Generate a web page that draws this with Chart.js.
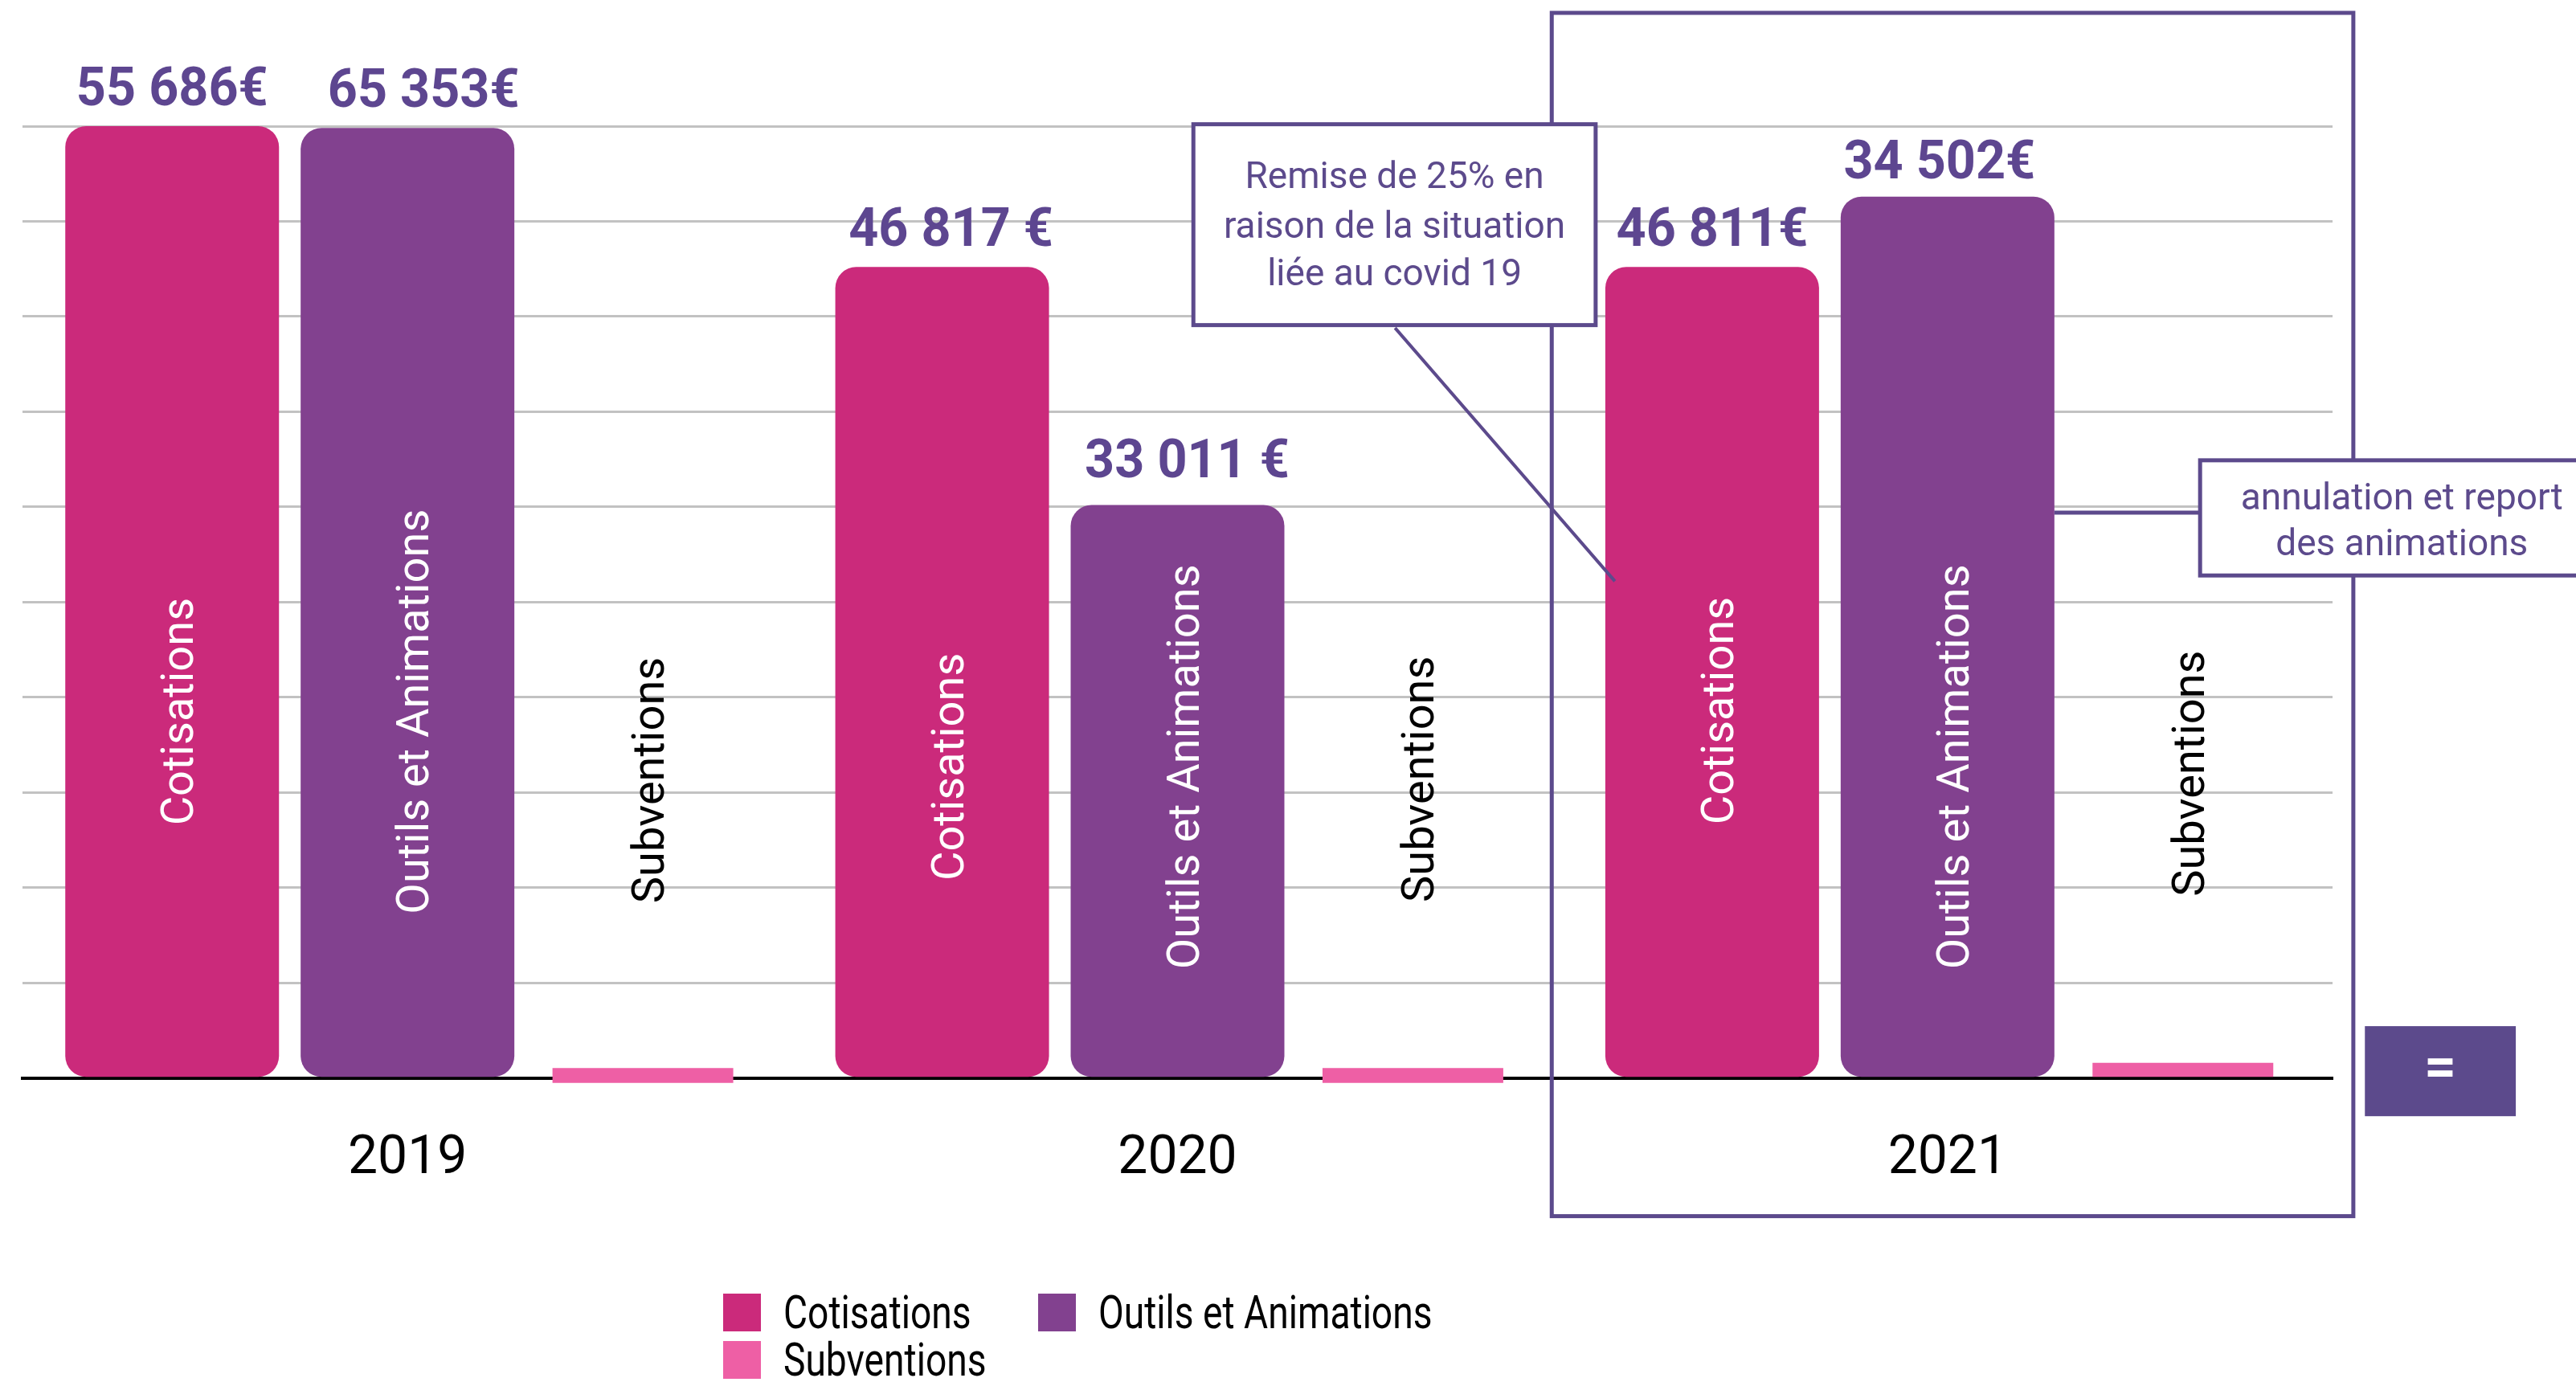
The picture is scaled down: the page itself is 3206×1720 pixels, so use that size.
<!DOCTYPE html>
<html><head><meta charset="utf-8">
<script src="https://cdn.jsdelivr.net/npm/chart.js@4/dist/chart.umd.min.js"></script>
<style>
html,body{margin:0;padding:0;background:#fff;}
#wrap{position:relative;width:3206px;height:1720px;overflow:hidden;background:#fff;}
canvas{position:absolute;left:0;top:0;}
.lg{position:absolute;font-family:Roboto,sans-serif;font-size:57px;color:#000;display:flex;align-items:center;white-space:nowrap;height:47px;}
.lg .b{display:inline-block;width:47px;height:47px;margin-right:28px;flex:none;}
.lg .t{display:inline-block;transform:scaleX(0.81);transform-origin:0 50%;}
</style></head><body>
<div id="wrap"><canvas id="c" width="3206" height="1720"></canvas><div id="legend"></div></div>
<script>
// ---- data ----
const years = ['2019', '2020', '2021'];
const seriesNames = ['Cotisations', 'Outils et Animations', 'Subventions'];
// bar heights (as drawn, on a 0-100 grid)
const cotisations = [100, 85.2, 85.2];
const outils = [99.8, 60.2, 92.6];
const subventions = [[-0.5, 1.05], [-0.5, 1.05], [0, 1.6]];
// amounts printed above bars
const amountCot = ['55 686€', '46 817 €', '46 811€'];
const amountOut = ['65 353€', '33 011 €', '34 502€'];
// note texts
const noteCovid = ['Remise de 25% en', 'raison de la situation', 'liée au covid 19'];
const noteAnim = ['annulation et report', 'des animations'];
const equalSign = '=';

// ---- styles ----
const colors = ['#cb2a7b', '#82418f', '#ee5fa5'];
const purple = '#5c4a8c';
// where the rotated names sit inside/above the bars (value units)
const nameCenters = [[38.5, 32.7, 38.6], [38.5, 32.7, 32.7], [31.3, 31.4, 32.0]];
// small horizontal / vertical nudges of the amount labels (px)
const amountDx = [[0, 11, 0], [20, 12, -10]];
const amountRise = [[50, 50, 50], [50, 58, 46]];

function scaledText(ctx, text, x, y, sx) {
  ctx.save();
  ctx.translate(x, y);
  ctx.scale(sx, 1);
  ctx.fillText(text, 0, 0);
  ctx.restore();
}

const annot = {
  id: 'annot',
  afterDatasetsDraw(chart) {
    const ctx = chart.ctx, xs = chart.scales.x, ys = chart.scales.y;
    const catW = xs.getPixelForValue(1) - xs.getPixelForValue(0);
    const cx = c => xs.getPixelForValue(0) + c * catW;
    const vy = v => ys.getPixelForValue(v);
    ctx.save();

    // amounts above bars
    ctx.fillStyle = '#5d4690';
    ctx.font = 'bold 66px Roboto';
    ctx.textAlign = 'center';
    ctx.textBaseline = 'alphabetic';
    [amountCot, amountOut].forEach((arr, d) => {
      chart.getDatasetMeta(d).data.forEach((bar, i) => {
        scaledText(ctx, arr[i], bar.x + amountDx[d][i], bar.y - amountRise[d][i] + 23.5, 0.98);
      });
    });

    // rotated series names
    ctx.font = '56px Roboto';
    [0, 1, 2].forEach(d => {
      chart.getDatasetMeta(d).data.forEach((bar, i) => {
        ctx.save();
        ctx.translate(bar.x + 6, vy(nameCenters[d][i]));
        ctx.rotate(-Math.PI / 2);
        ctx.fillStyle = d === 2 ? '#000' : '#fff';
        ctx.textAlign = 'center';
        ctx.fillText(seriesNames[d], 0, 20);
        ctx.restore();
      });
    });

    ctx.strokeStyle = purple;
    // frame around 2021
    ctx.lineWidth = 5;
    ctx.strokeRect(cx(1.486), vy(111.9), cx(2.527) - cx(1.486), vy(-14.5) - vy(111.9));

    // covid note: leader line then box
    ctx.lineWidth = 4;
    ctx.beginPath();
    ctx.moveTo(cx(1.2825), vy(78.8));
    ctx.lineTo(cx(1.568), vy(52.2));
    ctx.stroke();
    ctx.lineWidth = 5;
    let x0 = cx(1.0206), x1 = cx(1.543), y0 = vy(100.2), y1 = vy(79.1);
    ctx.fillStyle = '#fff';
    ctx.fillRect(x0, y0, x1 - x0, y1 - y0);
    ctx.strokeRect(x0, y0, x1 - x0, y1 - y0);
    ctx.fillStyle = purple;
    ctx.font = '46px Roboto';
    ctx.textAlign = 'center';
    ctx.textBaseline = 'middle';
    [94.5, 89.2, 84.3].forEach((v, k) => ctx.fillText(noteCovid[k], (x0 + x1) / 2, vy(v)));

    // animations note: connector from 2021 Outils bar, then box
    const ob = chart.getDatasetMeta(1).data[2];
    ctx.beginPath();
    ctx.moveTo(ob.x + ob.width / 2, vy(59.4));
    ctx.lineTo(cx(2.328), vy(59.4));
    ctx.stroke();
    x0 = cx(2.328); x1 = cx(2.95); y0 = vy(64.9); y1 = vy(52.8);
    ctx.fillStyle = '#fff';
    ctx.fillRect(x0, y0, x1 - x0, y1 - y0);
    ctx.strokeRect(x0, y0, x1 - x0, y1 - y0);
    ctx.fillStyle = purple;
    [60.7, 55.9].forEach((v, k) => ctx.fillText(noteAnim[k], cx(2.590), vy(v)));

    // "=" tile
    x0 = cx(2.542); x1 = cx(2.738); y0 = vy(5.46); y1 = vy(-4.0);
    ctx.fillRect(x0, y0, x1 - x0, y1 - y0);
    ctx.fillStyle = '#fff';
    ctx.font = 'bold 70px Roboto';
    ctx.fillText(equalSign, (x0 + x1) / 2, (y0 + y1) / 2);
    ctx.restore();
  }
};

new Chart(document.getElementById('c'), {
  type: 'bar',
  data: {
    labels: years,
    datasets: [
      { label: seriesNames[0], data: cotisations, backgroundColor: colors[0], borderRadius: 26, borderSkipped: false, barPercentage: 0.908 },
      { label: seriesNames[1], data: outils, backgroundColor: colors[1], borderRadius: 26, borderSkipped: false, barPercentage: 0.908 },
      { label: seriesNames[2], data: subventions, backgroundColor: colors[2], borderRadius: 0, barPercentage: 0.768, clip: false }
    ]
  },
  options: {
    responsive: false,
    animation: false,
    categoryPercentage: 0.917,
    layout: { padding: { left: 28, right: 303, top: 157, bottom: 175 } },
    plugins: { legend: { display: false }, tooltip: { enabled: false } },
    scales: {
      x: {
        grid: { display: false, drawTicks: false },
        border: { display: true, color: '#000', width: 4 },
        ticks: { color: '#000', padding: 62, font: { family: 'Roboto', size: 66 } }
      },
      y: {
        min: 0, max: 100,
        ticks: { display: false, stepSize: 10 },
        border: { display: false },
        grid: { drawTicks: false, lineWidth: 3, color: c => c.tick && c.tick.value === 0 ? 'rgba(0,0,0,0)' : '#c2c2c2' }
      }
    }
  },
  plugins: [annot]
});

// legend (two columns, wraps like the original)
const legendPos = [[900, 1610], [1292, 1610], [900, 1669]];
const lg = document.getElementById('legend');
seriesNames.forEach((n, i) => {
  const d = document.createElement('div');
  d.className = 'lg';
  d.style.left = legendPos[i][0] + 'px';
  d.style.top = legendPos[i][1] + 'px';
  d.innerHTML = '<span class="b" style="background:' + colors[i] + '"></span><span class="t">' + n + '</span>';
  lg.appendChild(d);
});
</script>
</body></html>
